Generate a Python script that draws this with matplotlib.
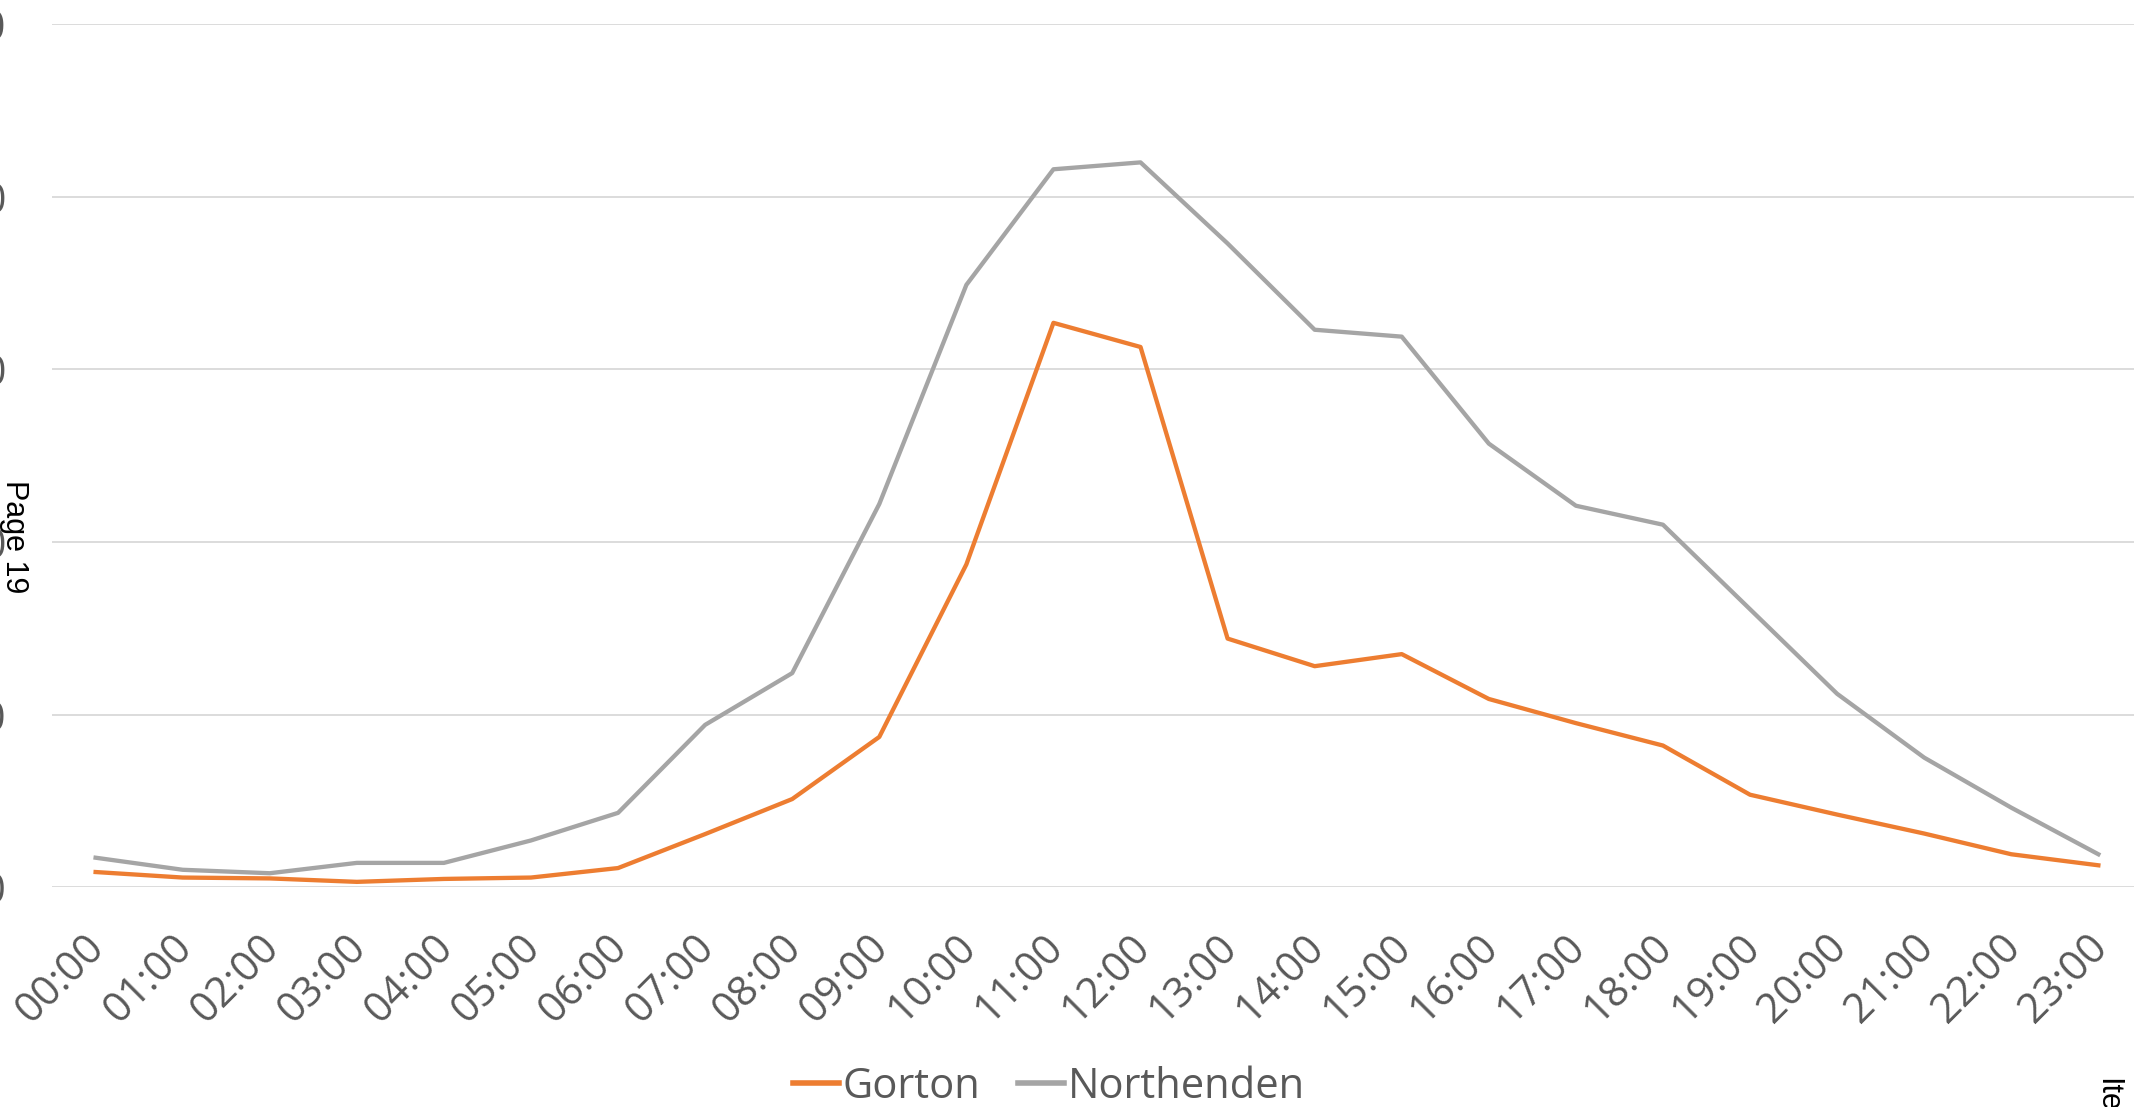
import matplotlib.pyplot as plt
import matplotlib.transforms as mtransforms
import numpy as np

hours = [f"{h:02d}:00" for h in range(24)]
gorton = [8.7, 5.5, 5, 3, 4.7, 5.5, 11, 30.7, 51, 87, 187, 327,
          313, 144, 128, 135, 109, 95, 82, 53.5, 42, 31, 19, 12.6]
northenden = [17, 10, 8, 14, 14, 27, 43, 94, 124, 222, 349, 416,
              420, 373, 323, 319, 257, 221, 210, 161, 112, 75, 46, 19]
y_ticks = [0, 100, 200, 300, 400, 500]

TEXT_GREY = '#595959'

fig = plt.figure(figsize=(21.34, 11.07), dpi=100)
ax = fig.add_axes([0.0244, 0.1987, 0.9793, 0.7793])

x = np.arange(len(hours))
ax.plot(x, gorton, color='#ED7D31', lw=3.1, label='Gorton', solid_joinstyle='round')
ax.plot(x, northenden, color='#A5A5A5', lw=3.1, label='Northenden', solid_joinstyle='round')

ax.set_xlim(-0.5, 23.5)
ax.set_ylim(0, 500)
ax.set_yticks(y_ticks)
ax.set_yticklabels([str(v) for v in y_ticks], fontsize=30, color=TEXT_GREY, family='Open Sans')
ax.tick_params(axis='y', length=0, pad=33)
ax.grid(axis='y', color='#D9D9D9', lw=1.3)
ax.set_axisbelow(True)

ax.set_xticks(x)
ax.set_xticklabels(hours, rotation=45, ha='right', va='top', fontsize=30,
                   color=TEXT_GREY, family='Open Sans')
ax.tick_params(axis='x', length=0, pad=28)
# nudge the slanted hour labels so their tops sit just right of each tick
shift = mtransforms.ScaledTranslation(0.18, 0, fig.dpi_scale_trans)
for lbl in ax.get_xticklabels():
    lbl.set_transform(lbl.get_transform() + shift)

for s in ax.spines.values():
    s.set_visible(False)

fig.legend(loc='center', bbox_to_anchor=(0.4915, 0.018), ncol=2, frameon=False,
           prop={'family': 'Open Sans', 'size': 30}, labelcolor=TEXT_GREY,
           handlelength=1.1, handletextpad=0.1, columnspacing=0.9)
for line in fig.legends[0].get_lines():
    line.set_linewidth(4)

# page furniture from the surrounding document
fig.text(0.0065, 0.515, 'Page 19', rotation=-90, fontsize=22, family='Liberation Sans',
         color='black', ha='center', va='center')
fig.text(0.9875, 0.026, 'Ite', rotation=-90, fontsize=22, family='Liberation Sans',
         color='black', ha='center', va='top')

fig.savefig('out.png', dpi=100)
